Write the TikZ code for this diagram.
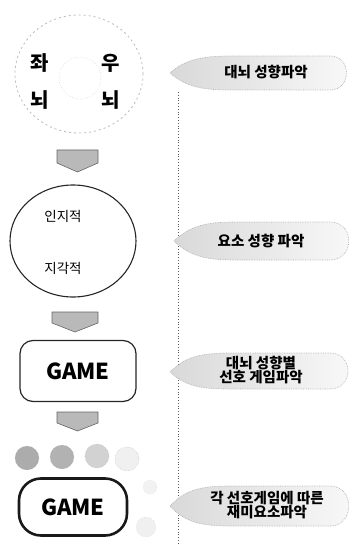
\documentclass[tikz,border=0pt]{standalone}
\usepackage{fontspec}
\setmainfont{Noto Sans CJK KR}
\newfontfamily\kr{Noto Sans CJK KR}
\usetikzlibrary{shapes.geometric,calc}
\begin{document}
\begin{tikzpicture}[x=1pt,y=-1pt,
  bigtxt/.style={font=\kr\bfseries\fontsize{20}{22}\selectfont},
  midtxt/.style={font=\kr\fontsize{13.5}{15}\selectfont},
  gametxt/.style={font=\kr\bfseries\fontsize{22}{24}\selectfont},
  lbltxt/.style={font=\kr\bfseries\fontsize{14.5}{16}\selectfont, align=center, inner sep=0pt},
  downarr/.style={fill=gray!55, draw=gray!80!black, line width=0.6pt},
  ribbon/.style={draw=gray!60, densely dotted, left color=gray!30, right color=gray!5, line width=0.7pt},
  blob/.style={circle, minimum size=24pt, inner sep=0pt, draw=gray!60, densely dotted}
]
\useasboundingbox (0,0) rectangle (355,553);

% dotted vertical line
\coordinate (vt) at (178,92);
\coordinate (vb) at (178,545);
\draw[dotted, line width=0.8pt, gray!70!black] (vt) -- (vb);

% ---- first circle (brain halves)
\node[ellipse, draw=gray!55, dashed, dash pattern=on 2pt off 3pt, line width=0.8pt,
      minimum width=128pt, minimum height=118pt] (brain) at (79,74) {};
\node[circle, draw=gray!40, dotted, line width=0.6pt, minimum size=42pt] (inner) at (80,78) {};
\node[bigtxt] (l1) at (40,63) {좌};
\node[bigtxt] (r1) at (111,63) {우};
\node[bigtxt] (l2) at (40,100) {뇌};
\node[bigtxt] (r2) at (111,100) {뇌};

% arrow 1
\draw[downarr] (57,150) -- (98,150) -- (98,163) -- (77.5,172) -- (57,163) -- cycle;

% ---- second circle
\node[ellipse, draw=black!85, line width=1.1pt, minimum width=126pt, minimum height=112pt] (cog) at (73,241) {};
\node[midtxt] (c1) at (63,216) {인지적};
\node[midtxt] (c2) at (63,268) {지각적};

% arrow 2
\draw[downarr] (52,312) -- (98,312) -- (98,323) -- (75,332) -- (52,323) -- cycle;

% ---- GAME box 1
\node[draw=black!85, line width=1.2pt, rounded corners=13pt, minimum width=116pt, minimum height=61pt, gametxt] (g1) at (78,371) {GAME};

% arrow 3
\draw[downarr] (57,412) -- (98,412) -- (98,423) -- (77.5,431) -- (57,423) -- cycle;

% blobs
\node[blob, fill=gray!65] (b1) at (27,458) {};
\node[blob, fill=gray!60] (b2) at (62,457) {};
\node[blob, fill=gray!35] (b3) at (97,456) {};
\node[blob, fill=gray!12] (b4) at (127,459) {};
\node[circle, minimum size=14pt, fill=gray!10, draw=gray!40, dotted] (b5) at (150,487) {};
\node[circle, minimum size=20pt, fill=gray!12, draw=gray!40, dotted] (b6) at (146,527) {};

% ---- GAME box 2
\node[draw=black!90, line width=2.6pt, rounded corners=22pt, minimum width=108pt, minimum height=57pt, gametxt] (g2) at (73,507) {GAME};

% ---- ribbons
\draw[ribbon] (170,73) .. controls (185,60) and (200,56) .. (230,56) -- (330,56)
   .. controls (352,56) and (352,90) .. (330,90) -- (230,90) .. controls (200,90) and (185,86) .. cycle;
\node[lbltxt] (t1) at (266,72) {대뇌 성향파악};

\draw[ribbon] (174,241) .. controls (190,226) and (205,222) .. (235,222) -- (330,222)
   .. controls (355,222) and (355,260) .. (330,260) -- (235,260) .. controls (205,260) and (190,256) .. cycle;
\node[lbltxt] (t2) at (261,241) {요소 성향 파악};

\draw[ribbon] (170,372) .. controls (185,357) and (200,353) .. (230,353) -- (330,353)
   .. controls (354,353) and (354,389) .. (330,389) -- (230,389) .. controls (200,389) and (185,386) .. cycle;
\node[lbltxt] (t3) at (261,370) {대뇌 성향별\\[-2pt]선호 게임파악};

\draw[ribbon] (170,506) .. controls (185,490) and (200,486) .. (230,486) -- (330,486)
   .. controls (355,486) and (355,526) .. (330,526) -- (230,526) .. controls (200,526) and (185,522) .. cycle;
\node[lbltxt] (t4) at (267,505) {각 선호게임에 따른\\[-2pt]재미요소파악};
\end{tikzpicture}
\end{document}
